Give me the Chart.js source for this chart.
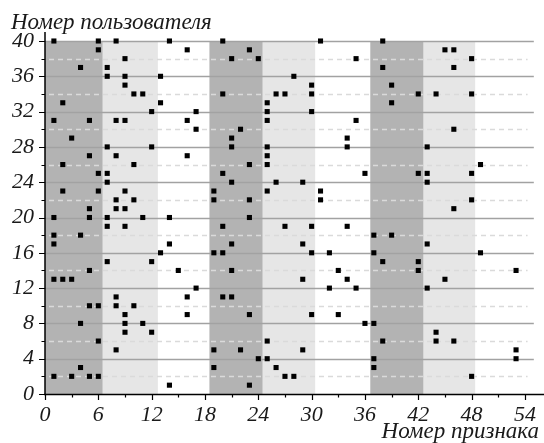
<!DOCTYPE html>
<html>
<head>
<meta charset="utf-8">
<script src="https://cdn.jsdelivr.net/npm/chart.js@4"></script>
<style>
  html, body { margin: 0; padding: 0; background: #fff; }
</style>
</head>
<body>
<canvas id="featChart" width="544" height="443"></canvas>
<script>
// feature number (x) and user number (y) of every mark, read column by column
const featNo = [
  1, 1, 1, 1, 1, 1, 1,
  2, 2, 2, 2,
  3, 3, 3,
  4, 4, 4, 4,
  5, 5, 5, 5, 5, 5, 5,
  6, 6, 6, 6, 6, 6, 6,
  7, 7, 7, 7, 7, 7, 7, 7,
  8, 8, 8, 8, 8, 8, 8, 8,
  9, 9, 9, 9, 9, 9, 9, 9, 9, 9,
  10, 10, 10, 10,
  11, 11, 11,
  12, 12, 12, 12,
  13, 13, 13,
  14, 14, 14, 14,
  15,
  16, 16, 16, 16, 16,
  17, 17, 17,
  19, 19, 19, 19, 19,
  20, 20, 20, 20, 20, 20,
  21, 21, 21, 21, 21, 21, 21,
  22, 22,
  23, 23, 23, 23, 23, 23,
  24, 24,
  25, 25, 25, 25, 25, 25, 25, 25, 25,
  26, 26, 26,
  27, 27, 27,
  28, 28,
  29, 29, 29, 29,
  30, 30, 30, 30, 30, 30,
  31, 31, 31,
  32, 32,
  33, 33,
  34, 34, 34, 34,
  35, 35, 35,
  36, 36,
  37, 37, 37, 37, 37,
  38, 38, 38, 38,
  39, 39, 39,
  42, 42, 42, 42,
  43, 43, 43, 43, 43,
  44, 44, 44,
  45, 45,
  46, 46, 46, 46, 46,
  48, 48, 48, 48, 48,
  49, 49,
  53, 53, 53
];
const userNo = [
  40, 31, 20, 18, 17, 13, 2,
  33, 26, 23, 13,
  29, 13, 2,
  37, 18, 8, 3,
  31, 27, 21, 20, 14, 10, 2,
  40, 39, 25, 23, 10, 6, 2,
  37, 36, 28, 25, 24, 20, 19, 15,
  40, 31, 27, 22, 21, 11, 10, 5,
  38, 36, 35, 31, 23, 21, 19, 9, 8, 7,
  34, 26, 22, 10,
  34, 20, 8,
  32, 28, 15, 7,
  36, 33, 16,
  40, 20, 17, 1,
  14,
  39, 31, 27, 11, 9,
  32, 30, 12,
  23, 22, 16, 5, 3,
  40, 34, 25, 19, 16, 11,
  38, 29, 28, 24, 17, 14, 11,
  30, 5,
  39, 26, 22, 20, 9, 1,
  38, 4,
  33, 32, 31, 28, 27, 26, 23, 6, 4,
  34, 24, 3,
  34, 19, 2,
  36, 2,
  24, 17, 13, 5,
  35, 34, 32, 19, 16, 9,
  40, 23, 22,
  16, 12,
  14, 9,
  29, 28, 19, 13,
  38, 31, 12,
  25, 8,
  18, 16, 8, 4, 3,
  40, 37, 15, 6,
  35, 33, 18,
  34, 25, 15, 14,
  28, 25, 24, 17, 12,
  34, 7, 6,
  39, 13,
  39, 37, 30, 21, 6,
  38, 34, 25, 22, 2,
  26, 16,
  14, 5, 4
];

const xTicks = [0, 6, 12, 18, 24, 30, 36, 42, 48, 54];
const yTicks = [0, 4, 8, 12, 16, 20, 24, 28, 32, 36, 40];

// shaded feature groups [from, to]
const darkBands = [[0, 6.5], [18.5, 24.5], [36.6, 42.6]];
const lightBands = [[6.5, 12.7], [24.5, 30.4], [42.6, 48.4]];

const xTitle = 'Номер признака';
const yTitle = 'Номер пользователя';

const serif = '"Liberation Serif", "Times New Roman", serif';

const points = featNo.map((x, i) => ({ x: x, y: userNo[i] }));

const backdrop = {
  id: 'backdrop',
  beforeDatasetsDraw(chart) {
    const c = chart.ctx;
    const xs = chart.scales.x, ys = chart.scales.y;
    const top = ys.getPixelForValue(40), bot = ys.getPixelForValue(0);
    c.save();
    // bands
    darkBands.forEach(b => {
      c.fillStyle = '#b3b3b3';
      const a = xs.getPixelForValue(b[0]), z = xs.getPixelForValue(b[1]);
      c.fillRect(a, top, z - a, bot - top);
    });
    lightBands.forEach(b => {
      c.fillStyle = '#e6e6e6';
      const a = xs.getPixelForValue(b[0]), z = xs.getPixelForValue(b[1]);
      c.fillRect(a, top, z - a, bot - top);
    });
    // horizontal grid: solid every 4, dashed in between
    const left = chart.chartArea.left, right = chart.chartArea.right;
    for (let v = 2; v <= 40; v += 2) {
      const y = Math.round(ys.getPixelForValue(v)) + 0.5;
      c.beginPath();
      if (v % 4 === 0) {
        c.setLineDash([]);
        c.strokeStyle = '#a2a2a2';
        c.lineWidth = 1.3;
        c.moveTo(left, y);
        c.lineTo(right, y);
      } else {
        c.setLineDash([5, 4]);
        c.strokeStyle = '#dadada';
        c.lineWidth = 1.3;
        c.moveTo(left + 4, y);
        c.lineTo(xs.getPixelForValue(54.3), y);
      }
      c.stroke();
    }
    c.setLineDash([]);
    // axes
    c.strokeStyle = '#000';
    c.lineWidth = 1.5;
    const x0 = xs.getPixelForValue(0);
    c.beginPath();
    c.moveTo(x0, bot + 1);
    c.lineTo(x0, top - 9);
    c.moveTo(x0 - 1, bot + 0.5);
    c.lineTo(chart.width, bot + 0.5);
    c.stroke();
    // tick marks
    c.lineWidth = 1.2;
    c.beginPath();
    for (let v = 0; v <= 40; v += 2) {
      const y = Math.round(ys.getPixelForValue(v)) + 0.5;
      c.moveTo(x0, y);
      c.lineTo(x0 - (v % 4 === 0 ? 6 : 3.5), y);
    }
    for (let v = 0; v <= 54; v += 3) {
      const x = Math.round(xs.getPixelForValue(v)) + 0.5;
      c.moveTo(x, bot);
      c.lineTo(x, bot + (v % 6 === 0 ? 6 : 3.5));
    }
    c.stroke();
    c.restore();
  },
  afterDraw(chart) {
    const c = chart.ctx;
    c.save();
    c.fillStyle = '#1a1a1a';
    c.font = 'italic 23px ' + serif;
    c.textBaseline = 'alphabetic';
    c.textAlign = 'left';
    c.fillText(yTitle, 11, 29);
    c.textAlign = 'right';
    c.fillText(xTitle, 539, 438);
    c.restore();
  }
};

const ctx = document.getElementById('featChart').getContext('2d');
new Chart(ctx, {
  type: 'scatter',
  data: {
    datasets: [{
      data: points,
      pointStyle: 'rect',
      radius: 3.6,
      hoverRadius: 3.6,
      backgroundColor: '#000',
      borderWidth: 0,
      clip: false
    }]
  },
  options: {
    responsive: false,
    animation: false,
    devicePixelRatio: 1,
    layout: { padding: { top: 41, right: 2, left: 0, bottom: 0 } },
    plugins: {
      legend: { display: false },
      title: { display: false },
      tooltip: { enabled: false }
    },
    scales: {
      x: {
        type: 'linear',
        min: 0,
        max: 55,
        afterBuildTicks: s => { s.ticks = xTicks.map(v => ({ value: v })); },
        afterFit: s => { s.height = 49; },
        grid: { display: false, drawTicks: false },
        border: { display: false },
        ticks: {
          padding: 8,
          maxRotation: 0,
          autoSkip: false,
          color: '#1a1a1a',
          font: { family: serif, style: 'italic', size: 22 }
        }
      },
      y: {
        type: 'linear',
        min: 0,
        max: 40,
        afterBuildTicks: s => { s.ticks = yTicks.map(v => ({ value: v })); },
        afterFit: s => { s.width = 45; },
        grid: { display: false, drawTicks: false },
        border: { display: false },
        ticks: {
          padding: 11,
          autoSkip: false,
          color: '#1a1a1a',
          font: { family: serif, style: 'italic', size: 22 }
        }
      }
    }
  },
  plugins: [backdrop]
});
</script>
</body>
</html>
